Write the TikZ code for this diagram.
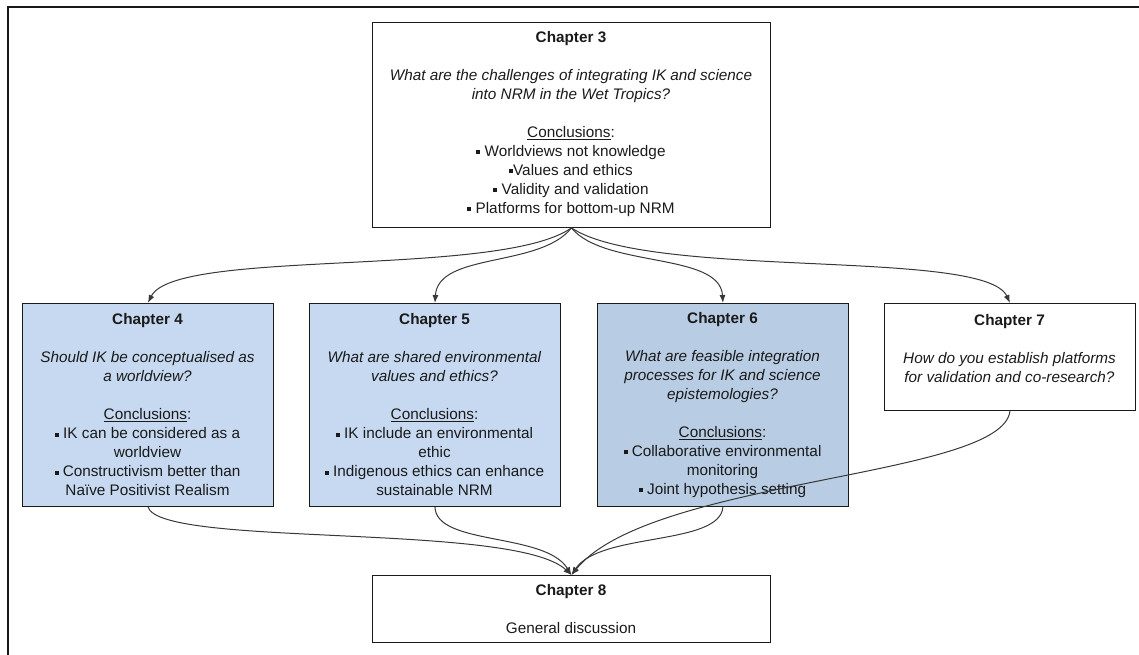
\documentclass[tikz,border=0pt]{standalone}
\usepackage{fontspec}
\setmainfont{Liberation Sans}
\usetikzlibrary{arrows.meta}
\definecolor{boxblue}{HTML}{C6D9F0}
\definecolor{boxbluedark}{HTML}{B8CCE4}
\definecolor{linkgray}{HTML}{383838}
\definecolor{inkgray}{HTML}{1A1A1A}
\newcommand{\sqbullet}{\raisebox{0.26ex}{\rule{0.26em}{0.26em}}}
\newcommand{\concl}{\underline{Conclusions}:}

\begin{document}
\begin{tikzpicture}[x=1pt,y=-1pt,
  chapbox/.style={draw=inkgray, line width=0.9pt, anchor=north west, inner sep=0pt},
  chaptext/.style={align=center, inner sep=0pt, text=inkgray,
    font=\fontsize{15.3}{19}\selectfont},
  link/.style={draw=linkgray, line width=1pt, -{Latex[length=8pt,width=6pt]}},
]
\useasboundingbox (0,0) rectangle (1139,655);

% outer frame (top and left edges only)
\draw[line width=1.8pt, black!90] (8,655) -- (8,7) -- (1139,7);

% chapter boxes
\node[chapbox, minimum width=398pt, minimum height=205pt] (c3) at (372,22) {};
\node[chapbox, fill=boxblue, minimum width=251pt, minimum height=203pt] (c4) at (22,303) {};
\node[chapbox, fill=boxblue, minimum width=251pt, minimum height=203pt] (c5) at (309,303) {};
\node[chapbox, fill=boxbluedark, minimum width=251pt, minimum height=203pt] (c6) at (597,303) {};
\node[chapbox, minimum width=251pt, minimum height=107pt] (c7) at (884,303) {};
\node[chapbox, minimum width=398pt, minimum height=67pt] (c8) at (372,575) {};

% box texts
\node[chaptext] (t3) at (571,124) {\textbf{Chapter 3}\\[19pt]
  \textit{What are the challenges of integrating IK and science}\\
  \textit{into NRM in the Wet Tropics?}\\[19pt]
  \concl\\
  \sqbullet\ Worldviews not knowledge\\
  \sqbullet Values and ethics\\
  \sqbullet\ Validity and validation\\
  \sqbullet\ Platforms for bottom-up NRM};

\node[chaptext] (t4) at (147.5,405) {\textbf{Chapter 4}\\[19pt]
  \textit{Should IK be conceptualised as}\\
  \textit{a worldview?}\\[19pt]
  \concl\\
  \sqbullet\ IK can be considered as a\\
  worldview\\
  \sqbullet\ Constructivism better than\\
  Naïve Positivist Realism};

\node[chaptext] (t5) at (434.5,405) {\textbf{Chapter 5}\\[19pt]
  \textit{What are shared environmental}\\
  \textit{values and ethics?}\\[19pt]
  \concl\\
  \sqbullet\ IK include an environmental\\
  ethic\\
  \sqbullet\ Indigenous ethics can enhance\\
  sustainable NRM};

\node[chaptext] (t6) at (722.5,405) {\textbf{Chapter 6}\\[19pt]
  \textit{What are feasible integration}\\
  \textit{processes for IK and science}\\
  \textit{epistemologies?}\\[19pt]
  \concl\\
  \sqbullet\ Collaborative environmental\\
  monitoring\\
  \sqbullet\ Joint hypothesis setting};

\node[chaptext] (t7) at (1009.5,349) {\textbf{Chapter 7}\\[19pt]
  \textit{How do you establish platforms}\\
  \textit{for validation and co-research?}};

\node[chaptext] (t8) at (571,609) {\textbf{Chapter 8}\\[19pt]
  General discussion};

% junction points
\coordinate (src) at (c3.south);
\coordinate (mrg) at (c8.north);

% from Chapter 3 to the four study chapters
\draw[link] (src) .. controls (500,278) and (175,248) .. (c4.north);
\draw[link] (src) .. controls (540,268) and (438,252) .. (c5.north);
\draw[link] (src) .. controls (604,268) and (720,252) .. (c6.north);
\draw[link] (src) .. controls (650,280) and (985,248) .. (c7.north);

% from the study chapters to Chapter 8
\draw[link] (c4.south) .. controls (160,548) and (515,522) .. (mrg);
\draw[link] (c5.south) .. controls (436,546) and (545,532) .. (mrg);
\draw[link] (c6.south) .. controls (720,546) and (600,532) .. (mrg);
\draw[link] (c7.south) .. controls (1003,478) and (650,478) .. (mrg);
\end{tikzpicture}
\end{document}
